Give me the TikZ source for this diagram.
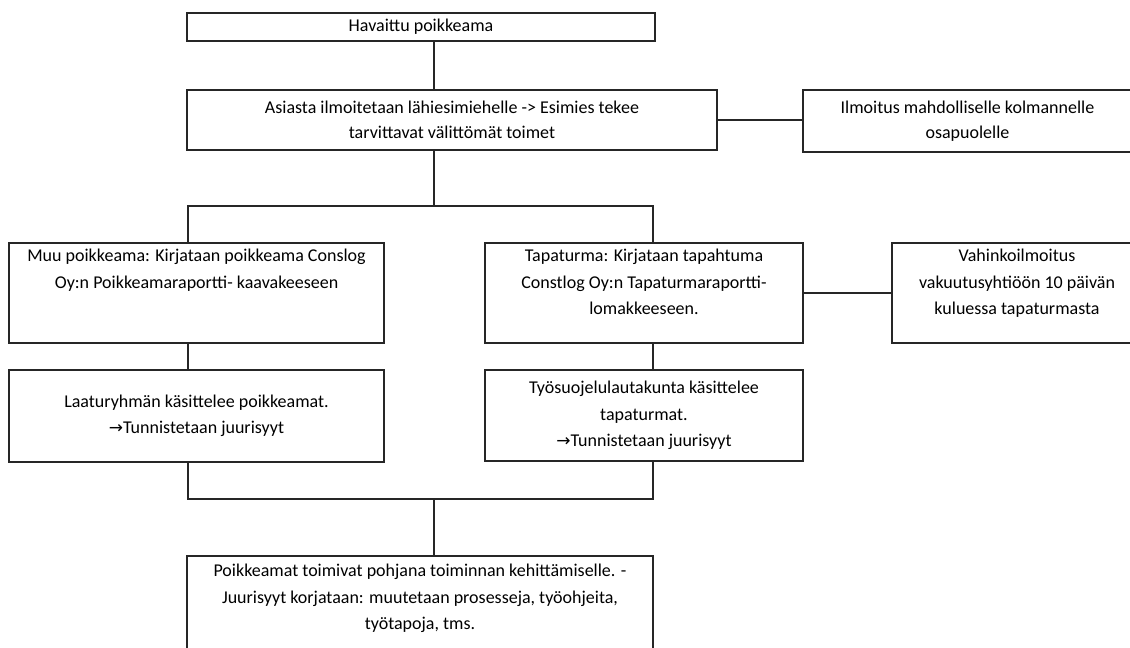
\documentclass[tikz,border=0pt]{standalone}
\usepackage{fontspec}
\setmainfont{Carlito}
\newfontfamily\arrowfont{DejaVu Sans}
\newcommand{\rarr}{{\arrowfont\fontsize{17pt}{17pt}\selectfont →}}
\begin{document}
\begin{tikzpicture}[x=1pt,y=-1pt,
  box/.style={draw=black!85, line width=1.5pt, inner sep=0pt, outer sep=0pt,
    anchor=north west, align=center,
    font=\fontsize{18pt}{26.5pt}\selectfont},
  txt/.style={inner sep=0pt, anchor=north, align=center,
    font=\fontsize{18pt}{26.5pt}\selectfont},
  link/.style={draw=black!85, line width=1.5pt}]
\useasboundingbox (0,0) rectangle (1130,648);
\clip (0,0) rectangle (1130,648);
\fill[white] (0,0) rectangle (1130,648);

% guide coordinates for the connector lines
\coordinate (spine) at (434,0);
\coordinate (lx) at (188,0);
\coordinate (rx) at (653,0);
\coordinate (split) at (0,206);
\coordinate (join) at (0,499);

% boxes
\node[box, minimum width=468pt, minimum height=28pt] (b1) at (187,13) {Havaittu poikkeama};
\node[box, minimum width=530pt, minimum height=60pt,
  font=\fontsize{18pt}{25pt}\selectfont] (b2) at (187,90)
  {Asiasta ilmoitetaan lähiesimiehelle -> Esimies tekee\\tarvittavat välittömät toimet};
\node[box, minimum width=329pt, minimum height=62pt,
  font=\fontsize{18pt}{25pt}\selectfont] (ilm) at (803,90)
  {Ilmoitus mahdolliselle kolmannelle\\osapuolelle};

\node[box, minimum width=375pt, minimum height=100pt] (muu) at (9,243) {};
\node[txt] (muut) at ([yshift=-6pt]muu.north)
  {Muu poikkeama: Kirjataan poikkeama Conslog\\Oy:n Poikkeamaraportti- kaavakeeseen};
\node[box, minimum width=318pt, minimum height=100pt] (tap) at (485,243) {};
\node[txt] (tapt) at ([yshift=-6pt]tap.north)
  {Tapaturma: Kirjataan tapahtuma\\Constlog Oy:n Tapaturmaraportti-\\lomakkeeseen.};
\node[box, minimum width=250pt, minimum height=100pt] (vah) at (892,243) {};
\node[txt] (vaht) at ([yshift=-6pt]vah.north)
  {Vahinkoilmoitus\\vakuutusyhtiöön 10 päivän\\kuluessa tapaturmasta};

\node[box, minimum width=375pt, minimum height=92pt] (laa) at (9,370)
  {Laaturyhmän käsittelee poikkeamat.\\\rarr Tunnistetaan juurisyyt};
\node[box, minimum width=318pt, minimum height=91pt] (tyo) at (485,370)
  {Työsuojelulautakunta käsittelee\\tapaturmat.\\\rarr Tunnistetaan juurisyyt};

\node[box, minimum width=466pt, minimum height=110pt] (bot) at (187,556) {};
\node[txt] (bott) at ([yshift=-8pt]bot.north)
  {Poikkeamat toimivat pohjana toiminnan kehittämiselle. -\\Juurisyyt korjataan: muutetaan prosesseja, työohjeita,\\työtapoja, tms.};

% connectors
\draw[link] (spine |- b1.south) -- (spine |- b2.north);
\draw[link] (b2.east) -- (b2.east -| ilm.west);
\draw[link] (spine |- b2.south) -- (spine |- split);
\draw[link] (lx |- muu.north) -- (lx |- split) -- (rx |- split) -- (rx |- tap.north);
\draw[link] (tap.east) -- (vah.west);
\draw[link] (lx |- muu.south) -- (lx |- laa.north);
\draw[link] (rx |- tap.south) -- (rx |- tyo.north);
\draw[link] (lx |- laa.south) -- (lx |- join) -- (rx |- join) -- (rx |- tyo.south);
\draw[link] (spine |- join) -- (spine |- bot.north);
\end{tikzpicture}
\end{document}
